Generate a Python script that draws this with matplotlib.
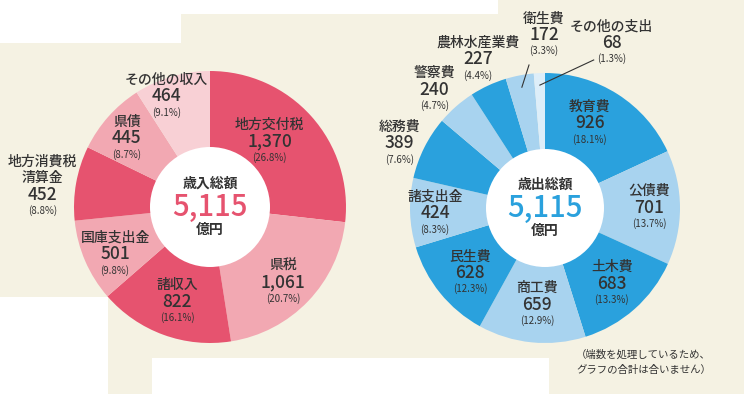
import numpy as np
import matplotlib
matplotlib.use("Agg")
import matplotlib.pyplot as plt
from matplotlib.patches import Polygon, Circle

plt.rcParams['font.family'] = ['Noto Sans CJK JP', 'DejaVu Sans']

# ---- data ----
rev_names = ["地方交付税", "県税", "諸収入", "国庫支出金", "地方消費税\n清算金", "県債", "その他の収入"]
rev_values = [1370, 1061, 822, 501, 452, 445, 464]
rev_pcts = ["(26.8%)", "(20.7%)", "(16.1%)", "(9.8%)", "(8.8%)", "(8.7%)", "(9.1%)"]
rev_total = "5,115"

exp_names = ["教育費", "公債費", "土木費", "商工費", "民生費", "諸支出金", "総務費",
             "警察費", "農林水産業費", "衛生費", "その他の支出"]
exp_values = [926, 701, 683, 659, 628, 424, 389, 240, 227, 172, 68]
exp_pcts = ["(18.1%)", "(13.7%)", "(13.3%)", "(12.9%)", "(12.3%)", "(8.3%)", "(7.6%)",
            "(4.7%)", "(4.4%)", "(3.3%)", "(1.3%)"]
exp_total = "5,115"

note_lines = ["（端数を処理しているため、", "グラフの合計は合いません）"]

# ---- style / layout ----
W, H = 744, 394
DARK_PINK, LIGHT_PINK, PALE_PINK = "#E6536F", "#F2A8B2", "#F8D0D5"
DARK_BLUE, LIGHT_BLUE, PALE_BLUE = "#2AA1DD", "#A8D3EF", "#DDEEF9"
BG = "#F5F2E3"
TXT = "#333333"

rev_colors = [DARK_PINK, LIGHT_PINK, DARK_PINK, LIGHT_PINK, DARK_PINK, LIGHT_PINK, PALE_PINK]
exp_colors = [DARK_BLUE, LIGHT_BLUE] * 5 + [PALE_BLUE]

# label placement: radius (px) and angular offset (deg, clockwise) from wedge mid-angle
rev_lab_r = [89, 105, 100, 106, 168, 108, 119]
rev_lab_off = [-6, 2, -1, -3, -6, -2, -5]
exp_lab_r = [96, 104, 101, 97, 99, 110, 159, 162, 163, 173, 178]
exp_lab_off = [-4.7, 0, 0, -1, -2, -0.6, -2.6, -1.7, 0.6, 10.5, 24.4]
# leader line start offsets (dx, dy) from label anchor, None = no leader
exp_leader = [None] * 9 + [(-15, -30), (-18, -17)]

fig = plt.figure(figsize=(W / 100, H / 100), dpi=100)
fig.patch.set_facecolor("white")
ax = fig.add_axes([0, 0, 1, 1])

# decorative beige background
bg_pts = [(0, 43), (181, 43), (181, 14), (498, 14), (498, 0), (744, 0), (744, 394),
          (549, 394), (549, 358), (152, 358), (152, 394), (108, 394), (108, 297), (0, 297)]
ax.add_patch(Polygon([(x, H - y) for x, y in bg_pts], closed=True, fc=BG, ec="none", zorder=0))

LINE = 16.5  # px between label lines


def donut(values, colors, names, pcts, center, R, r_in, lab_r, lab_off, leader,
          title, total, total_color):
    cx, cy = center
    wedges, _ = ax.pie(values, colors=colors, startangle=90, counterclock=False,
                       radius=R, center=center, wedgeprops=dict(linewidth=0))
    for w in wedges:
        w.set_zorder(1)
    ax.add_patch(Circle(center, r_in, fc="white", ec="none", zorder=2))
    tot = float(sum(values))
    cum = np.cumsum([0] + list(values))
    for i, (nm, v, p) in enumerate(zip(names, values, pcts)):
        mid = (cum[i] + v / 2) / tot * 360.0
        a = np.deg2rad(mid + lab_off[i])
        lx = cx + lab_r[i] * np.sin(a)
        ly = cy + lab_r[i] * np.cos(a)
        lines = nm.split("\n")
        for k, ln in enumerate(lines):
            ax.text(lx, ly + LINE * (len(lines) - k), ln, ha="center", va="center",
                    fontsize=10, color=TXT, fontweight="medium", zorder=3)
        ax.text(lx, ly, f"{v:,}", ha="center", va="center", fontsize=12.5, color=TXT,
                fontweight="medium", zorder=3)
        ax.text(lx, ly - 16, p, ha="center", va="center", fontsize=7, color=TXT, zorder=3)
        if leader[i] is not None:
            am = np.deg2rad(mid)
            px = cx + 123 * np.sin(am)
            py = cy + 123 * np.cos(am)
            sx, sy = lx + leader[i][0], ly + leader[i][1]
            ax.plot([sx, px], [sy, py], color=TXT, lw=0.8, zorder=3)
    ax.text(cx, cy + 23, title, ha="center", va="center", fontsize=10, color=TXT,
            fontweight="bold", zorder=3)
    ax.text(cx, cy, total, ha="center", va="center", fontsize=21, color=total_color,
            fontweight="medium", zorder=3)
    ax.text(cx, cy - 23, "億円", ha="center", va="center", fontsize=10, color=TXT,
            fontweight="bold", zorder=3)


donut(rev_values, rev_colors, rev_names, rev_pcts, (210, H - 207), 136, 60,
      rev_lab_r, rev_lab_off, [None] * 7, "歳入総額", rev_total, DARK_PINK)
donut(exp_values, exp_colors, exp_names, exp_pcts, (545, H - 208), 135, 59,
      exp_lab_r, exp_lab_off, exp_leader, "歳出総額", exp_total, DARK_BLUE)

for k, ln in enumerate(note_lines):
    ax.text(576, H - 355 - 15 * k, ln, ha="left", va="center",
            fontsize=7.5, color=TXT, zorder=3)

ax.set_xlim(0, W)
ax.set_ylim(0, H)
ax.set_aspect("equal")
ax.axis("off")
fig.savefig("out.png", dpi=100)
